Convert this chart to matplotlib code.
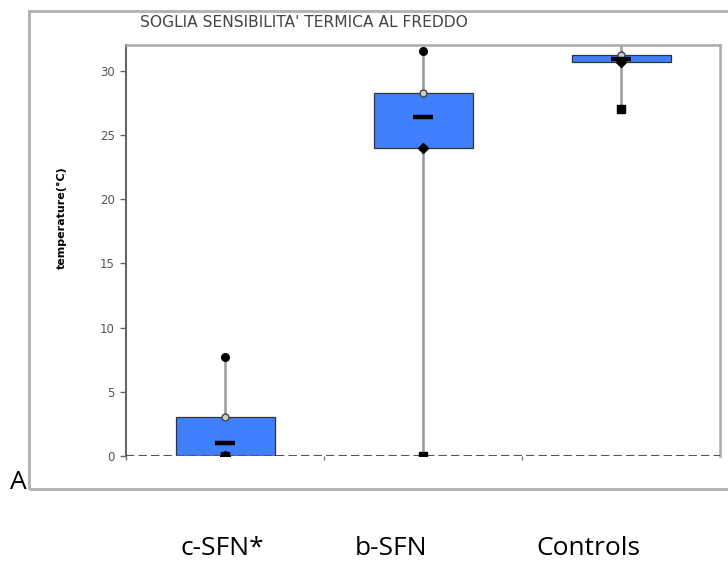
import matplotlib
matplotlib.use("Agg")
import matplotlib.pyplot as plt
from matplotlib.patches import Rectangle

groups = ['c-SFN*', 'b-SFN', 'Controls']
min_vals = [0.0, 0.0, 27.0]
q1_vals = [0.0, 24.0, 30.7]
median_vals = [1.0, 26.4, 30.9]
q3_vals = [3.0, 28.3, 31.2]
max_vals = [7.7, 31.5, 33.5]
yticks = [0, 5, 10, 15, 20, 25, 30]

W, H = 728, 562
fig = plt.figure(figsize=(W / 100, H / 100), dpi=100)
fig.patch.set_facecolor('white')

# outer gray frame (runs off the right edge)
frame = Rectangle((29 / W, 1 - 489 / H), 1.0, (489 - 11) / H, transform=fig.transFigure,
                  fill=False, edgecolor='#b0b0b0', linewidth=2, clip_on=False)
fig.patches.append(frame)

ax = fig.add_axes([126 / W, 1 - 456 / H, (720 - 126) / W, (456 - 45) / H])
x = list(range(len(groups)))

# whiskers
for i in x:
    ax.plot([i, i], [min_vals[i], max_vals[i]], color='#999999', lw=1.8, zorder=1)

# boxes
ax.bar(x, [q3_vals[i] - q1_vals[i] for i in x], bottom=q1_vals, width=0.5,
       color='#4080ff', edgecolor='#333333', linewidth=0.9, zorder=2)

ax.plot(x, max_vals, 'o', color='black', ms=5.5, zorder=4)
ax.plot(x, q3_vals, 'o', mfc='#cccccc', mec='#444444', ms=5, mew=1, zorder=4)
ax.plot(x, q1_vals, 'D', color='black', ms=5.5, zorder=4)
ax.plot(x, min_vals, 's', color='black', ms=5.5, zorder=4)
ax.plot(x, median_vals, '_', color='black', ms=14.5, mew=3.2, zorder=5)

ax.axhline(0, color='#555555', lw=1.5, ls=(0, (4, 2)), zorder=3)

ax.set_xlim(-0.5, 2.5)
ax.set_ylim(0, 32)
ax.set_xticks([-0.5, 0.5, 1.5])
ax.set_xticklabels([])
ax.tick_params(axis='x', direction='out', length=3, color='#777777', width=1)
ax.set_yticks(yticks)
ax.set_yticklabels([str(v) for v in yticks], fontsize=8.5, color='#555555',
                   family='DejaVu Sans')
ax.tick_params(axis='y', direction='out', length=4, color='#666666', width=1, pad=4)

for s in ['top', 'right']:
    ax.spines[s].set_color('#aaaaaa')
    ax.spines[s].set_linewidth(1.8)
ax.spines['left'].set_color('#666666')
ax.spines['left'].set_linewidth(1.5)
ax.spines['bottom'].set_visible(False)

fig.text(62 / W, 1 - 218 / H, 'temperature(°C)', fontsize=8, fontweight='bold',
         rotation=90, ha='center', va='center', family='DejaVu Sans')

fig.text(140 / W, 1 - 27 / H, "SOGLIA SENSIBILITA' TERMICA AL FREDDO", fontsize=11.2,
         color='#444444', ha='left', va='baseline', family='DejaVu Sans')

fig.text(27 / W, 1 - 489 / H, 'A', fontsize=19, ha='right', va='baseline',
         family=['Open Sans', 'DejaVu Sans'])

label_x = [222, 391, 588]
for lx, g in zip(label_x, groups):
    fig.text(lx / W, 1 - 555 / H, g, fontsize=19, ha='center', va='baseline',
             family=['Open Sans', 'DejaVu Sans'])

fig.savefig('out.png', dpi=100, facecolor='white')
